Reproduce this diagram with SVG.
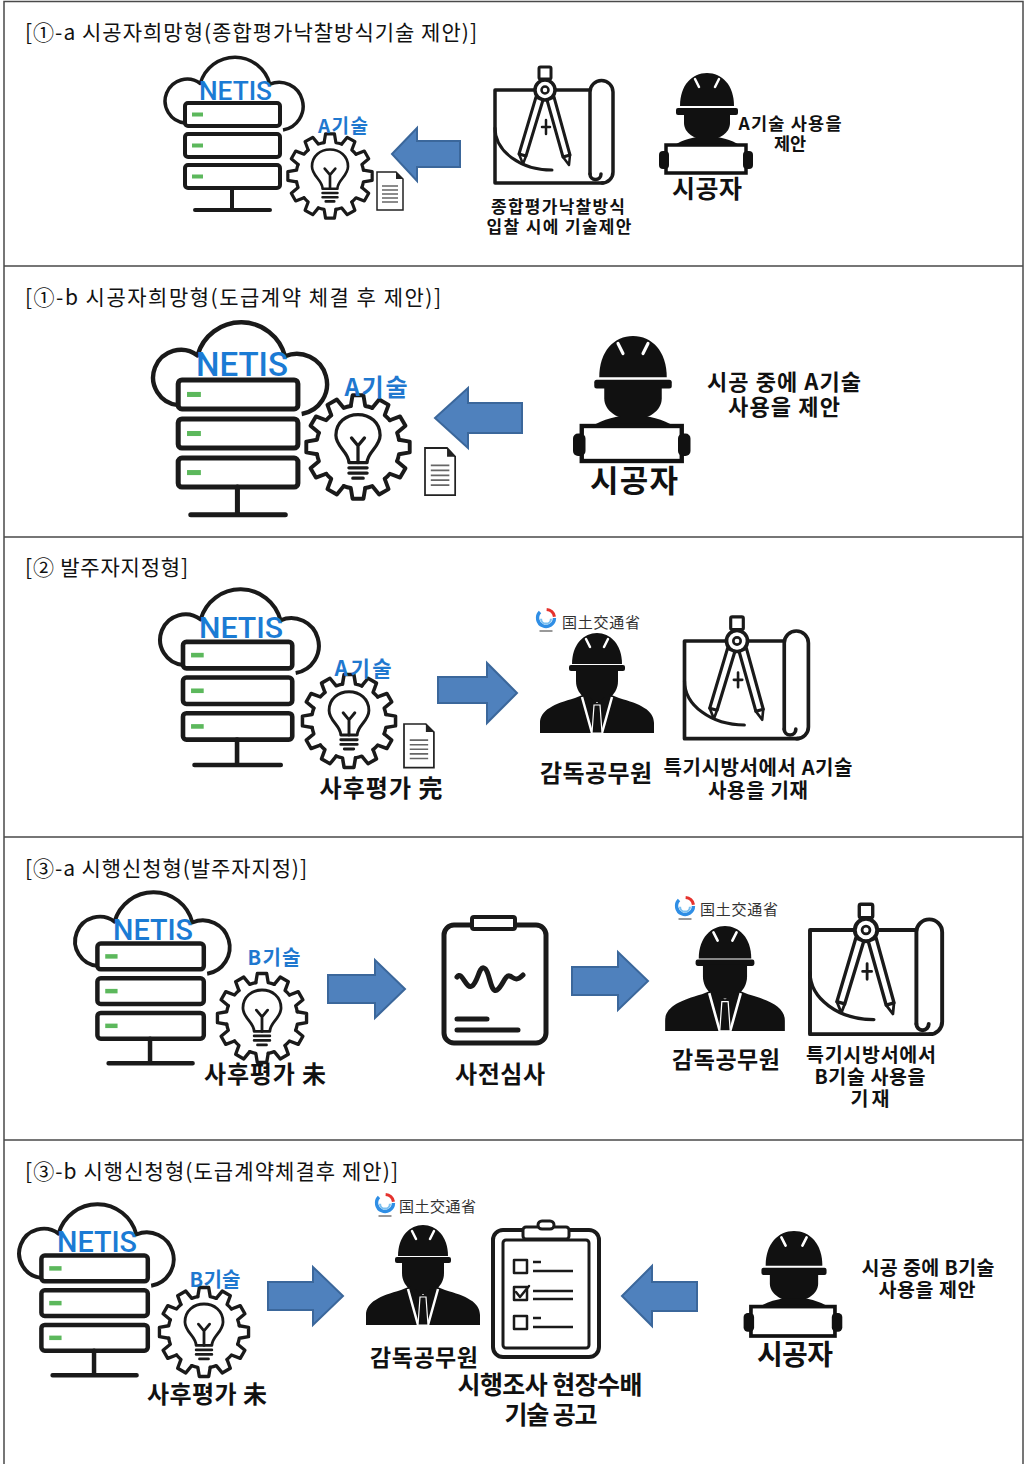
<svg xmlns="http://www.w3.org/2000/svg" xmlns:xlink="http://www.w3.org/1999/xlink" width="1025" height="1464" viewBox="0 0 1025 1464">
<style>
  text { font-family: "Noto Sans CJK KR", "Noto Sans", sans-serif; fill: #111; }
  .ttl { font-size: 21px; font-weight: 400; }
  .lbl { font-weight: 700; text-anchor: middle; }
  .tech { font-weight: 700; fill: #1f78cf; text-anchor: middle; }
  .netis { font-family: Roboto, "Liberation Sans", sans-serif; font-weight: 500; fill: #1b7bd4; }
  .mlit { font-family: "Noto Sans CJK JP", sans-serif; font-size: 15px; fill: #333; }
  .ln { fill: none; stroke: #1a1a1a; stroke-linecap: round; stroke-linejoin: round; }
  .wf { fill: #fff; stroke: #1a1a1a; stroke-linejoin: round; }
  .arrow { fill: #4f81bd; stroke: #3b679b; stroke-width: 2; }
  .frame { fill: none; stroke: #4a4a4a; stroke-width: 1.5; }
</style>
<defs>
  <!-- cloud + server rack -->
  <g id="server">
    <path class="wf" stroke-width="3.5" d="M20,66 A22,22 0 1 1 35.3,26.5 A36,36 0 0 1 104.8,27.2 A24,24 0 1 1 118,73"/>
    <g class="wf" stroke="#2a2a2a" stroke-width="4">
      <rect x="20" y="46" width="95" height="23" rx="3"/>
      <rect x="20" y="77" width="95" height="23" rx="3"/>
      <rect x="20" y="108" width="95" height="23" rx="3"/>
    </g>
    <g fill="#5cb85c">
      <rect x="27" y="55.5" width="11" height="4"/>
      <rect x="27" y="86.5" width="11" height="4"/>
      <rect x="27" y="117.5" width="11" height="4"/>
    </g>
    <path class="ln" stroke="#2a2a2a" stroke-width="4" stroke-linecap="butt" d="M67,131 V153 M30,153 H105"/>
  </g>
  <!-- gear with light bulb -->
  <path id="tooth" d="M-5.56,-31.51 L-4.18,-39.78 L4.18,-39.78 L5.56,-31.51 A32,32 0 0 1 10.94,-30.07"/>
  <g id="gear">
    <circle r="34" fill="#fff"/>
    <g class="ln" stroke-width="3">
      <use xlink:href="#tooth" href="#tooth"/>
      <use xlink:href="#tooth" href="#tooth" transform="rotate(30)"/>
      <use xlink:href="#tooth" href="#tooth" transform="rotate(60)"/>
      <use xlink:href="#tooth" href="#tooth" transform="rotate(90)"/>
      <use xlink:href="#tooth" href="#tooth" transform="rotate(120)"/>
      <use xlink:href="#tooth" href="#tooth" transform="rotate(150)"/>
      <use xlink:href="#tooth" href="#tooth" transform="rotate(180)"/>
      <use xlink:href="#tooth" href="#tooth" transform="rotate(210)"/>
      <use xlink:href="#tooth" href="#tooth" transform="rotate(240)"/>
      <use xlink:href="#tooth" href="#tooth" transform="rotate(270)"/>
      <use xlink:href="#tooth" href="#tooth" transform="rotate(300)"/>
      <use xlink:href="#tooth" href="#tooth" transform="rotate(330)"/>
      <path d="M-7,12 C-7,4 -17,0 -17,-9 C-17,-19 -9,-25 0,-25 C9,-25 17,-19 17,-9 C17,0 7,4 7,12 Z" stroke-width="2.5"/>
      <path d="M0,12 V-1 M0,-1 L-5,-7 M0,-1 L5,-7 M-7,16 H7 M-7,20 H7 M-4,24 H4" stroke-width="2.5"/>
    </g>
  </g>
  <!-- document sheet -->
  <g id="doc">
    <path d="M0,0 H19 L26,7 V38 H0 Z" fill="#fff" stroke="#222" stroke-width="1.5"/>
    <path d="M19,0 L26,7 H19 Z" fill="#222"/>
    <path d="M5,14 H21 M5,18 H21 M5,22 H21 M5,26 H21 M5,30 H21" stroke="#666" stroke-width="1.4"/>
  </g>
  <!-- contractor with hard hat holding a drawing -->
  <g id="worker">
    <path fill="#111" d="M-27,33 C-27,12 -15,0 0,0 C15,0 27,12 27,33 Z"/>
    <path fill="none" stroke="#fff" stroke-width="2.5" stroke-linecap="round" d="M-12,6 L-8,14 M12,6 L8,14"/>
    <rect x="-31" y="35" width="62" height="7" rx="2" fill="#111"/>
    <path fill="#111" d="M-23,40 H23 V50 C23,60 12,67 0,67 C-12,67 -23,60 -23,50 Z"/>
    <path fill="#111" d="M-39,79 C-33,69 -20,66 -10,64 H10 C20,66 33,69 39,79 Z"/>
    <rect x="-41" y="72" width="80" height="28" fill="#fff" stroke="#111" stroke-width="3.5"/>
    <rect x="-48" y="78" width="10" height="18" rx="4" fill="#111"/>
    <rect x="36" y="78" width="10" height="18" rx="4" fill="#111"/>
  </g>
  <!-- government supervisor in suit and helmet -->
  <g id="official">
    <path fill="#111" d="M-25,31 C-25,11 -13,0 0,0 C13,0 25,11 25,31 Z"/>
    <path fill="none" stroke="#fff" stroke-width="2.5" stroke-linecap="round" d="M-11,6 L-7,14 M11,6 L7,14"/>
    <rect x="-28" y="32" width="56" height="6" rx="2" fill="#111"/>
    <path fill="#111" d="M-21,37 H21 V48 C21,61 10,69 0,69 C-10,69 -21,61 -21,48 Z"/>
    <path fill="#111" d="M-57,100 V90 C-57,77 -43,71 -22,65 L-12,61 L0,70 L12,61 L22,65 C43,71 57,77 57,90 V100 Z"/>
    <path fill="none" stroke="#fff" stroke-width="2.5" d="M-15,64 L-5,100 M15,64 L5,100"/>
    <path fill="#111" stroke="#fff" stroke-width="1.2" d="M-3,72 H3 L5,100 H-5 Z"/>
  </g>
  <!-- drawing roll with compass -->
  <g id="blueprint">
    <g class="ln" stroke-width="3.5">
      <path d="M-50,0 H45 M-50,0 V93 H58"/>
      <path d="M-50,38 A57,42 0 0 0 7,80" stroke-width="3"/>
      <path d="M45,84 V2 A11.5,11.5 0 0 1 68,2 V82 A11,11 0 0 1 57,93"/>
      <path d="M45,84 A5.5,5.5 0 0 0 56,84"/>
    </g>
    <g class="wf" stroke-width="3">
      <rect x="-6" y="-23" width="12" height="12" rx="1.5"/>
      <circle r="10" stroke-width="3.5"/>
      <circle r="3.5" stroke-width="2.5"/>
      <path d="M-9,7 L-26,64 L-19,66 L-2,10 Z"/>
      <path d="M9,7 L2,10 L18,67 L25,65 Z"/>
    </g>
    <g class="ln" stroke-width="2.5">
      <path d="M-26,64 L-22,74 L-19,66"/>
      <path d="M18,67 L24,75 L25,65"/>
      <path d="M1,30 V44 M-3,37 H5"/>
    </g>
  </g>
  <!-- ministry emblem -->
  <g id="mlit">
    <path d="M-4.6,-4.6 A6.5,6.5 0 1 0 6.5,0" fill="none" stroke="#2f8ee5" stroke-width="2.6"/>
    <path d="M-3.8,0.5 A3.8,3.8 0 0 0 3.8,0.5" fill="none" stroke="#7cc0f0" stroke-width="1.6"/>
    <path d="M0.5,-6.5 A6.5,6.5 0 0 1 6.5,-1" fill="none" stroke="#e5322d" stroke-width="2.4"/>
    <path d="M-5,10 H5" stroke="#999" stroke-width="1.5"/>
  </g>
</defs>

<rect width="1025" height="1464" fill="#fff"/>

<!-- table frame -->
<g id="frame">
  <rect class="frame" x="4" y="1.5" width="1019" height="1475"/>
  <path class="frame" d="M4,266 H1023 M4,537 H1023 M4,837 H1023 M4,1140 H1023"/>
</g>

<!-- section titles -->
<g id="titles">
  <text class="ttl" x="25" y="40" textLength="452" lengthAdjust="spacing">[①-a 시공자희망형(종합평가낙찰방식기술  제안)]</text>
  <text class="ttl" x="25" y="305" textLength="416" lengthAdjust="spacing">[①-b 시공자희망형(도급계약 체결 후 제안)]</text>
  <text class="ttl" x="25" y="575" textLength="163" lengthAdjust="spacing">[② 발주자지정형]</text>
  <text class="ttl" x="25" y="876" textLength="282" lengthAdjust="spacing">[③-a 시행신청형(발주자지정)]</text>
  <text class="ttl" x="25" y="1179" textLength="373" lengthAdjust="spacing">[③-b 시행신청형(도급계약체결후 제안)]</text>
</g>

<!-- arrows -->
<g id="connectors">
  <polygon class="arrow" points="392,154 417,128 417,141 460,141 460,167 417,167 417,181"/>
  <polygon class="arrow" points="435,418 468,388 468,403 522,403 522,433 468,433 468,448"/>
  <polygon class="arrow" points="438,677 487,677 487,663 517,693 487,723 487,703 438,703"/>
  <polygon class="arrow" points="328,975 375,975 375,960 405,989 375,1018 375,1003 328,1003"/>
  <polygon class="arrow" points="572,967 618,967 618,952 648,981 618,1010 618,995 572,995"/>
  <polygon class="arrow" points="268,1282 313,1282 313,1267 343,1296 313,1325 313,1310 268,1310"/>
  <polygon class="arrow" points="622,1296 652,1266 652,1282 697,1282 697,1311 652,1311 652,1326"/>
</g>

<!-- ①-a -->
<g id="netis-1a">
  <use xlink:href="#server" href="#server" transform="translate(165,57)"/>
  <text class="netis" x="199" y="100" font-size="26" textLength="73" lengthAdjust="spacingAndGlyphs">NETIS</text>
  <use xlink:href="#gear" href="#gear" transform="translate(330,176) scale(1.06)"/>
  <use xlink:href="#doc" href="#doc" transform="translate(377,172)"/>
  <text class="tech" x="343" y="133" font-size="19" textLength="50" lengthAdjust="spacing">A기술</text>
</g>
<g id="bid-1a">
  <use xlink:href="#blueprint" href="#blueprint" transform="translate(545,90)"/>
  <text class="lbl" font-size="17"><tspan x="558" y="213" textLength="134" lengthAdjust="spacing">종합평가낙찰방식</tspan><tspan x="559" y="233" textLength="145" lengthAdjust="spacing">입찰 시에 기술제안</tspan></text>
</g>
<g id="contractor-1a">
  <use xlink:href="#worker" href="#worker" transform="translate(707,73)"/>
  <text class="lbl" x="707" y="198" font-size="25" textLength="70" lengthAdjust="spacing">시공자</text>
  <text class="lbl" font-size="17.5"><tspan x="790" y="130" textLength="103" lengthAdjust="spacing">A기술 사용을</tspan><tspan x="790" y="150">제안</tspan></text>
</g>

<!-- ①-b -->
<g id="netis-1b">
  <use xlink:href="#server" href="#server" transform="translate(153,322) scale(1.26)"/>
  <text class="netis" x="196" y="376" font-size="33" textLength="92" lengthAdjust="spacingAndGlyphs">NETIS</text>
  <use xlink:href="#gear" href="#gear" transform="translate(358,447) scale(1.3)"/>
  <use xlink:href="#doc" href="#doc" transform="translate(425,448) scale(1.16,1.24)"/>
  <text class="tech" x="376" y="396" font-size="24" textLength="63" lengthAdjust="spacing">A기술</text>
</g>
<g id="contractor-1b">
  <use xlink:href="#worker" href="#worker" transform="translate(633,336) scale(1.25)"/>
  <text class="lbl" x="634" y="492" font-size="31" textLength="88" lengthAdjust="spacing">시공자</text>
  <text class="lbl" font-size="22"><tspan x="784" y="390" textLength="154" lengthAdjust="spacing">시공 중에 A기술</tspan><tspan x="784" y="415" textLength="112" lengthAdjust="spacing">사용을 제안</tspan></text>
</g>

<!-- ② -->
<g id="netis-2">
  <use xlink:href="#server" href="#server" transform="translate(160,589) scale(1.15)"/>
  <text class="netis" x="199" y="638" font-size="30" textLength="84" lengthAdjust="spacingAndGlyphs">NETIS</text>
  <use xlink:href="#gear" href="#gear" transform="translate(349,721) scale(1.17)"/>
  <use xlink:href="#doc" href="#doc" transform="translate(404,724) scale(1.15)"/>
  <text class="tech" x="363" y="676" font-size="21" textLength="57" lengthAdjust="spacing">A기술</text>
  <text class="lbl" x="381" y="797" font-size="24" textLength="123" lengthAdjust="spacing">사후평가 完</text>
</g>
<g id="supervisor-2">
  <use xlink:href="#mlit" href="#mlit" transform="translate(546,618) scale(1.3)"/>
  <text class="mlit" x="562" y="628" textLength="78" lengthAdjust="spacing">国土交通省</text>
  <use xlink:href="#official" href="#official" transform="translate(597,633)"/>
  <text class="lbl" x="596" y="782" font-size="24" textLength="112" lengthAdjust="spacing">감독공무원</text>
</g>
<g id="spec-2">
  <use xlink:href="#blueprint" href="#blueprint" transform="translate(737,641) scale(1.05)"/>
  <text class="lbl" font-size="20"><tspan x="758" y="775" textLength="189" lengthAdjust="spacing">특기시방서에서 A기술</tspan><tspan x="758" y="798" textLength="100" lengthAdjust="spacing">사용을 기재</tspan></text>
</g>

<!-- ③-a -->
<g id="netis-3a">
  <use xlink:href="#server" href="#server" transform="translate(75,892) scale(1.12)"/>
  <text class="netis" x="113" y="940" font-size="29" textLength="80" lengthAdjust="spacingAndGlyphs">NETIS</text>
  <use xlink:href="#gear" href="#gear" transform="translate(262,1018) scale(1.12)"/>
  <text class="tech" x="274" y="965" font-size="20" textLength="53" lengthAdjust="spacing">B기술</text>
  <text class="lbl" x="265" y="1083" font-size="24" textLength="122" lengthAdjust="spacing">사후평가 未</text>
</g>
<g id="review-3a">
  <rect class="wf" x="444" y="925" width="102" height="118" rx="10" stroke-width="5"/>
  <rect class="wf" x="472" y="917" width="43" height="12" rx="2" stroke-width="4"/>
  <path class="ln" stroke-width="5" d="M457,977 C462,970 466,990 472,986 C478,982 479,966 484,968 C490,970 490,994 497,990 C503,986 505,974 510,976 C514,978 516,982 523,975"/>
  <path class="ln" stroke-width="5" stroke-linecap="butt" d="M457,1019 H487 M457,1030 H518"/>
  <text class="lbl" x="500" y="1083" font-size="24" textLength="90" lengthAdjust="spacing">사전심사</text>
</g>
<g id="supervisor-3a">
  <use xlink:href="#mlit" href="#mlit" transform="translate(685,906) scale(1.3)"/>
  <text class="mlit" x="700" y="915" textLength="78" lengthAdjust="spacing">国土交通省</text>
  <use xlink:href="#official" href="#official" transform="translate(725,926) scale(1.05)"/>
  <text class="lbl" x="726" y="1068" font-size="23" textLength="108" lengthAdjust="spacing">감독공무원</text>
</g>
<g id="spec-3a">
  <use xlink:href="#blueprint" href="#blueprint" transform="translate(866,930) scale(1.12)"/>
  <text class="lbl" font-size="19.5"><tspan x="871" y="1062" textLength="130" lengthAdjust="spacing">특기시방서에서</tspan><tspan x="870" y="1084" textLength="111" lengthAdjust="spacing">B기술 사용을</tspan><tspan x="870" y="1106" textLength="39" lengthAdjust="spacing">기재</tspan></text>
</g>

<!-- ③-b -->
<g id="netis-3b">
  <use xlink:href="#server" href="#server" transform="translate(19,1204) scale(1.12)"/>
  <text class="netis" x="57" y="1252" font-size="29" textLength="80" lengthAdjust="spacingAndGlyphs">NETIS</text>
  <use xlink:href="#gear" href="#gear" transform="translate(204,1332) scale(1.12)"/>
  <text class="tech" x="215" y="1287" font-size="20" textLength="51" lengthAdjust="spacing">B기술</text>
  <text class="lbl" x="207" y="1403" font-size="24" textLength="120" lengthAdjust="spacing">사후평가 未</text>
</g>
<g id="supervisor-3b">
  <use xlink:href="#mlit" href="#mlit" transform="translate(385,1203) scale(1.3)"/>
  <text class="mlit" x="399" y="1212" textLength="77" lengthAdjust="spacing">国土交通省</text>
  <use xlink:href="#official" href="#official" transform="translate(423,1225)"/>
  <text class="lbl" x="424" y="1366" font-size="23" textLength="108" lengthAdjust="spacing">감독공무원</text>
</g>
<g id="checklist-3b">
  <rect class="wf" x="493" y="1230" width="106" height="127" rx="10" stroke-width="4"/>
  <rect class="wf" x="503" y="1240" width="86" height="108" rx="3" stroke-width="3"/>
  <rect class="wf" x="523" y="1227" width="46" height="12" rx="3" stroke-width="3"/>
  <rect class="wf" x="538" y="1221" width="16" height="8" rx="4" stroke-width="3"/>
  <g class="ln" stroke-width="2.5">
    <rect x="514" y="1260" width="13" height="13"/>
    <rect x="514" y="1287" width="13" height="13"/>
    <rect x="514" y="1316" width="13" height="13"/>
    <path d="M516,1292 L520,1297 L529,1286"/>
    <path stroke-linecap="butt" d="M533,1262 H541 M533,1271 H573 M533,1291 H573 M533,1299 H573 M533,1318 H541 M533,1327 H573"/>
  </g>
  <text class="lbl" font-size="25"><tspan x="550" y="1394" textLength="185" lengthAdjust="spacing">시행조사 현장수배</tspan><tspan x="551" y="1424" textLength="93" lengthAdjust="spacing">기술 공고</tspan></text>
</g>
<g id="contractor-3b">
  <use xlink:href="#worker" href="#worker" transform="translate(794,1231) scale(1.05)"/>
  <text class="lbl" x="795" y="1365" font-size="28" textLength="76" lengthAdjust="spacing">시공자</text>
  <text class="lbl" font-size="19.5"><tspan x="928" y="1275" textLength="133" lengthAdjust="spacing">시공 중에 B기술</tspan><tspan x="927" y="1297" textLength="97" lengthAdjust="spacing">사용을 제안</tspan></text>
</g>
</svg>
